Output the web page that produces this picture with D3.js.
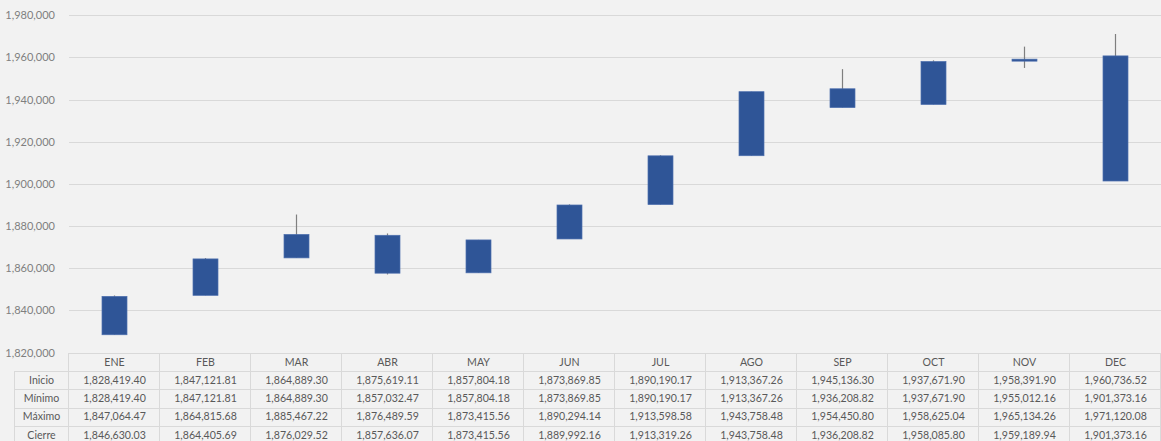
<!DOCTYPE html>
<html>
<head>
<meta charset="utf-8">
<script src="https://cdn.jsdelivr.net/npm/d3@7"></script>
<style>
    body { margin: 0; background: #f2f2f2; }
    svg { display: block; font-family: Lato, "Open Sans", sans-serif; }
</style>
</head>
<body>
<div id="chart"></div>
<script>
var months = ["ENE", "FEB", "MAR", "ABR", "MAY", "JUN", "JUL", "AGO", "SEP", "OCT", "NOV", "DEC"];
var inicio = [1828419.40, 1847121.81, 1864889.30, 1875619.11, 1857804.18, 1873869.85, 1890190.17, 1913367.26, 1945136.30, 1937671.90, 1958391.90, 1960736.52];
var minimo = [1828419.40, 1847121.81, 1864889.30, 1857032.47, 1857804.18, 1873869.85, 1890190.17, 1913367.26, 1936208.82, 1937671.90, 1955012.16, 1901373.16];
var maximo = [1847064.47, 1864815.68, 1885467.22, 1876489.59, 1873415.56, 1890294.14, 1913598.58, 1943758.48, 1954450.80, 1958625.04, 1965134.26, 1971120.08];
var cierre = [1846630.03, 1864405.69, 1876029.52, 1857636.07, 1873415.56, 1889992.16, 1913319.26, 1943758.48, 1936208.82, 1958085.80, 1959189.94, 1901373.16];
var rowLabels = ["Inicio", "Mínimo", "Máximo", "Cierre"];
var yTicks = [1820000, 1840000, 1860000, 1880000, 1900000, 1920000, 1940000, 1960000, 1980000];

(function() {
    var width = 1161,
        height = 441,
        plotLeft = 69,
        plotRight = 1161,
        plotTop = 15.3,
        plotBottom = 352.5,
        rowH = 18.2,
        labelLeft = 14;

    var svg = d3.select("#chart")
        .append("svg")
        .attr("width", width)
        .attr("height", height);

    svg.append("rect")
        .attr("width", width)
        .attr("height", height)
        .attr("fill", "#f2f2f2");

    var x = d3.scaleBand()
        .domain(months)
        .range([plotLeft, plotRight]);

    var y = d3.scaleLinear()
        .domain([1820000, 1980000])
        .range([plotBottom, plotTop]);

    var fmtAxis = d3.format(",");
    var fmtVal = d3.format(",.2f");

    // gridlines
    svg.append("g")
        .selectAll("line")
        .data(yTicks)
        .enter().append("line")
        .attr("x1", plotLeft)
        .attr("x2", plotRight)
        .attr("y1", d => Math.round(y(d)) + 0.5)
        .attr("y2", d => Math.round(y(d)) + 0.5)
        .attr("stroke", "#d9d9d9")
        .attr("stroke-width", 1);

    // y axis labels
    var yAxis = d3.axisLeft(y)
        .tickValues(yTicks)
        .tickFormat(fmtAxis)
        .tickSize(0)
        .tickPadding(0);

    var ay = svg.append("g")
        .attr("transform", "translate(55,0)")
        .call(yAxis);
    ay.select(".domain").remove();
    ay.selectAll("text")
        .attr("fill", "#7f7f7f")
        .attr("font-size", 11)
        .attr("font-family", "Lato, 'Open Sans', sans-serif");

    var idx = d3.range(months.length);
    var boxW = 25;

    // wicks
    svg.append("g")
        .selectAll("line")
        .data(idx)
        .enter().append("line")
        .attr("x1", i => x(months[i]) + x.bandwidth() / 2)
        .attr("x2", i => x(months[i]) + x.bandwidth() / 2)
        .attr("y1", i => y(maximo[i]))
        .attr("y2", i => y(minimo[i]))
        .attr("stroke", "#7f7f7f")
        .attr("stroke-width", 1.2);

    // boxes
    svg.append("g")
        .selectAll("rect")
        .data(idx)
        .enter().append("rect")
        .attr("x", i => x(months[i]) + x.bandwidth() / 2 - boxW / 2)
        .attr("width", boxW)
        .attr("y", i => y(Math.max(inicio[i], cierre[i])))
        .attr("height", i => Math.max(2, Math.abs(y(inicio[i]) - y(cierre[i]))))
        .attr("fill", "#2f5597")
        .attr("stroke", "#4d6fae")
        .attr("stroke-width", 0.7);

    // data table
    var table = svg.append("g");
    var tableTop = 353;
    var series = [inicio, minimo, maximo, cierre];
    var lineColor = "#d9d9d9";
    var fs = 10.6;

    // horizontal lines
    table.append("line")
        .attr("x1", plotLeft).attr("x2", plotRight)
        .attr("y1", tableTop + 0.5).attr("y2", tableTop + 0.5)
        .attr("stroke", lineColor);
    d3.range(1, 6).forEach(function(r) {
        var yy = Math.round(tableTop + r * rowH) + 0.5;
        table.append("line")
            .attr("x1", labelLeft).attr("x2", plotRight)
            .attr("y1", yy).attr("y2", yy)
            .attr("stroke", lineColor);
    });

    // vertical lines
    table.append("line")
        .attr("x1", labelLeft + 0.5).attr("x2", labelLeft + 0.5)
        .attr("y1", tableTop + rowH).attr("y2", height)
        .attr("stroke", lineColor);
    months.concat(["_end"]).forEach(function(m, i) {
        var xx = Math.round(plotLeft + i * x.bandwidth()) - 0.5;
        table.append("line")
            .attr("x1", xx).attr("x2", xx)
            .attr("y1", tableTop).attr("y2", height)
            .attr("stroke", lineColor);
    });

    // header text
    table.selectAll(".hdr")
        .data(months)
        .enter().append("text")
        .attr("class", "hdr")
        .attr("x", d => x(d) + x.bandwidth() / 2)
        .attr("y", tableTop + rowH / 2)
        .attr("dy", "0.35em")
        .attr("text-anchor", "middle")
        .attr("font-size", fs)
        .attr("fill", "#595959")
        .text(d => d);

    // row labels
    table.selectAll(".rlab")
        .data(rowLabels)
        .enter().append("text")
        .attr("class", "rlab")
        .attr("x", (labelLeft + plotLeft) / 2)
        .attr("y", (d, r) => tableTop + rowH * (r + 1.5))
        .attr("dy", "0.35em")
        .attr("text-anchor", "middle")
        .attr("font-size", fs)
        .attr("fill", "#595959")
        .text(d => d);

    // values
    series.forEach(function(s, r) {
        table.append("g")
            .selectAll("text")
            .data(s)
            .enter().append("text")
            .attr("x", (d, i) => x(months[i]) + x.bandwidth() / 2)
            .attr("y", tableTop + rowH * (r + 1.5))
            .attr("dy", "0.35em")
            .attr("text-anchor", "middle")
            .attr("font-size", fs)
            .attr("fill", "#595959")
            .text(d => fmtVal(d));
    });
})();
</script>
</body>
</html>
